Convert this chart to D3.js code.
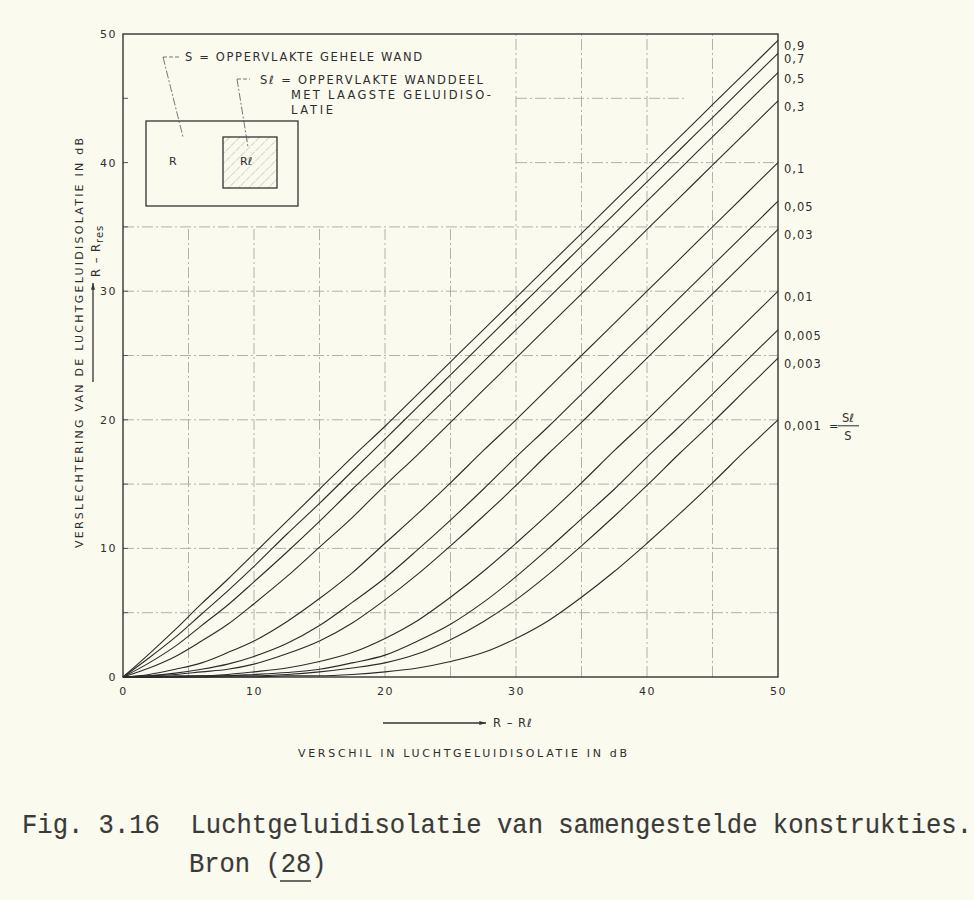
<!DOCTYPE html>
<html>
<head>
<meta charset="utf-8">
<script src="https://cdn.jsdelivr.net/npm/d3@7"></script>
<style>
  body { margin: 0; background: #fbfaee; }
  svg { display: block; }
  .lettering { font-family: 'DejaVu Sans', sans-serif; fill: #2e2e2e; }
  .caption { font-family: 'Liberation Mono', monospace; fill: #3a3a3a; stroke: #3a3a3a; stroke-width: 0.15; }
</style>
</head>
<body>
<svg id="chart"></svg>
<script>
const xValues = [0, 2, 4, 6, 8, 10, 12.5, 15, 17.5, 20, 22.5, 25, 27.5, 30, 32.5, 35, 37.5, 40, 42.5, 45, 47.5, 50];

// R - Rres (dB) per ratio Sl/S
const curve09 = [0, 1.8, 3.7, 5.7, 7.6, 9.6, 12.1, 14.6, 17.1, 19.5, 22.0, 24.5, 27.0, 29.5, 32.0, 34.5, 37.0, 39.5, 42.0, 44.5, 47.0, 49.5];
const curve07 = [0, 1.5, 3.1, 4.9, 6.7, 8.6, 11.1, 13.5, 16.0, 18.5, 21.0, 23.5, 26.0, 28.5, 31.0, 33.5, 36.0, 38.5, 41.0, 43.5, 46.0, 48.5];
const curve05 = [0, 1.1, 2.4, 4.0, 5.6, 7.4, 9.7, 12.1, 14.6, 17.0, 19.5, 22.0, 24.5, 27.0, 29.5, 32.0, 34.5, 37.0, 39.5, 42.0, 44.5, 47.0];
const curve03 = [0, 0.7, 1.6, 2.8, 4.1, 5.7, 7.8, 10.1, 12.4, 14.9, 17.3, 19.8, 22.3, 24.8, 27.3, 29.8, 32.3, 34.8, 37.3, 39.8, 42.3, 44.8];
const curve01 = [0, 0.2, 0.6, 1.1, 1.9, 2.8, 4.3, 6.1, 8.1, 10.4, 12.7, 15.1, 17.6, 20.0, 22.5, 25.0, 27.5, 30.0, 32.5, 35.0, 37.5, 40.0];
const curve005 = [0, 0.1, 0.3, 0.6, 1.0, 1.6, 2.6, 4.0, 5.8, 7.7, 9.9, 12.2, 14.6, 17.1, 19.5, 22.0, 24.5, 27.0, 29.5, 32.0, 34.5, 37.0];
const curve003 = [0, 0.1, 0.2, 0.4, 0.6, 1.0, 1.8, 2.8, 4.2, 6.0, 8.0, 10.2, 12.5, 14.9, 17.4, 19.8, 22.3, 24.8, 27.3, 29.8, 32.3, 34.8];
const curve001 = [0, 0.0, 0.1, 0.1, 0.2, 0.4, 0.7, 1.2, 1.9, 3.0, 4.4, 6.2, 8.2, 10.4, 12.7, 15.1, 17.6, 20.0, 22.5, 25.0, 27.5, 30.0];
const curve0005 = [0, 0.0, 0.0, 0.1, 0.1, 0.2, 0.35, 0.6, 1.1, 1.7, 2.8, 4.1, 5.8, 7.8, 10.0, 12.3, 14.6, 17.1, 19.5, 22.0, 24.5, 27.0];
const curve0003 = [0, 0.0, 0.0, 0.0, 0.1, 0.1, 0.2, 0.4, 0.7, 1.1, 1.8, 2.9, 4.3, 6.0, 8.0, 10.2, 12.5, 14.9, 17.4, 19.8, 22.3, 24.8];
const curve0001 = [0, 0.0, 0.0, 0.0, 0.0, 0.0, 0.1, 0.1, 0.2, 0.4, 0.7, 1.2, 1.9, 3.0, 4.4, 6.2, 8.2, 10.4, 12.7, 15.1, 17.6, 20.0];

const ratioLabels = ['0,9', '0,7', '0,5', '0,3', '0,1', '0,05', '0,03', '0,01', '0,005', '0,003', '0,001'];
const curves = [curve09, curve07, curve05, curve03, curve01, curve005, curve003, curve001, curve0005, curve0003, curve0001];

const xTicks = [0, 10, 20, 30, 40, 50];
const yTicks = [0, 10, 20, 30, 40, 50];
const gridSteps = [5, 10, 15, 20, 25, 30, 35, 40, 45];

const config = {
  width: 974,
  height: 900,
  margin: {top: 34, left: 123},
  innerWidth: 655,
  innerHeight: 643
};

const svg = d3.select('#chart')
    .attr('width', config.width)
    .attr('height', config.height);

svg.append('rect')
    .attr('width', config.width)
    .attr('height', config.height)
    .attr('fill', '#fbfaee');

const chart = svg.append('g')
    .attr('transform', `translate(${config.margin.left},${config.margin.top})`);

const xScale = d3.scaleLinear().domain([0, 50]).range([0, config.innerWidth]);
const yScale = d3.scaleLinear().domain([0, 50]).range([config.innerHeight, 0]);

// dash-dot grid; upper-left part is kept free for the sketch
const grid = chart.append('g')
    .attr('stroke', '#a9a9a2')
    .attr('stroke-width', 0.9)
    .attr('stroke-dasharray', '11,3,2,3')
    .attr('fill', 'none');

grid.selectAll('.vgrid')
    .data(gridSteps)
    .join('line')
    .attr('class', 'vgrid')
    .attr('x1', d => xScale(d))
    .attr('x2', d => xScale(d))
    .attr('y1', yScale(0))
    .attr('y2', d => d >= 30 ? yScale(50) : yScale(35));

grid.selectAll('.hgrid')
    .data(gridSteps)
    .join('line')
    .attr('class', 'hgrid')
    .attr('y1', d => yScale(d))
    .attr('y2', d => yScale(d))
    .attr('x1', d => d >= 40 ? xScale(30) : xScale(0))
    .attr('x2', d => d === 45 ? xScale(43) : xScale(50));

// axes
const xAxis = d3.axisBottom(xScale).tickValues(xTicks).tickSize(0).tickPadding(10);
const yAxis = d3.axisLeft(yScale).tickValues(yTicks).tickSize(0).tickPadding(6);

const xAxisG = chart.append('g')
    .attr('transform', `translate(0,${config.innerHeight})`)
    .call(xAxis);
const yAxisG = chart.append('g').call(yAxis);

[xAxisG, yAxisG].forEach(g => {
  g.select('.domain').remove();
  g.selectAll('text')
      .attr('font-family', 'DejaVu Sans, sans-serif')
      .attr('font-size', 11)
      .attr('letter-spacing', 1.5)
      .attr('fill', '#2e2e2e');
});

// small inward ticks
chart.selectAll('.ytick-in')
    .data(gridSteps)
    .join('line')
    .attr('x1', 0).attr('x2', 5)
    .attr('y1', d => yScale(d)).attr('y2', d => yScale(d))
    .attr('stroke', '#555').attr('stroke-width', 1);

// frame
chart.append('rect')
    .attr('width', config.innerWidth)
    .attr('height', config.innerHeight)
    .attr('fill', 'none')
    .attr('stroke', '#333')
    .attr('stroke-width', 1.4);

// curves
const line = d3.line()
    .x((d, i) => xScale(xValues[i]))
    .y(d => yScale(d))
    .curve(d3.curveMonotoneX);

chart.selectAll('.curve')
    .data(curves)
    .join('path')
    .attr('class', 'curve')
    .attr('d', d => line(d))
    .attr('fill', 'none')
    .attr('stroke', '#2b2b2b')
    .attr('stroke-width', 1.1);

// curve labels at the right end
chart.selectAll('.ratio-label')
    .data(curves)
    .join('text')
    .attr('class', 'ratio-label lettering')
    .attr('x', xScale(50) + 6)
    .attr('y', d => yScale(d[d.length - 1]) + 6)
    .attr('dy', '0.35em')
    .attr('font-size', 11.5)
    .attr('letter-spacing', 1)
    .text((d, i) => ratioLabels[i]);

const lastY = yScale(curve0001[curve0001.length - 1]) + 6;
const fracX = xScale(50) + 70;
chart.append('text').attr('class', 'lettering')
    .attr('x', xScale(50) + 51).attr('y', lastY).attr('dy', '0.35em')
    .attr('font-size', 11.5).text('=');
chart.append('text').attr('class', 'lettering')
    .attr('x', fracX).attr('y', lastY - 4)
    .attr('font-size', 11.5).attr('text-anchor', 'middle').text('Sℓ');
chart.append('line')
    .attr('x1', fracX - 10).attr('x2', fracX + 11)
    .attr('y1', lastY).attr('y2', lastY)
    .attr('stroke', '#2e2e2e').attr('stroke-width', 1);
chart.append('text').attr('class', 'lettering')
    .attr('x', fracX).attr('y', lastY + 14)
    .attr('font-size', 11.5).attr('text-anchor', 'middle').text('S');

// sketch of the wall in the upper-left corner
const sketch = svg.append('g');
const hatch = svg.append('defs').append('pattern')
    .attr('id', 'hatch')
    .attr('patternUnits', 'userSpaceOnUse')
    .attr('width', 7).attr('height', 7)
    .attr('patternTransform', 'rotate(45)');
hatch.append('line')
    .attr('x1', 0).attr('y1', 0).attr('x2', 0).attr('y2', 7)
    .attr('stroke', '#9a9a90').attr('stroke-width', 0.8)
    .attr('stroke-dasharray', '3,1');

sketch.append('rect')
    .attr('x', 146).attr('y', 121).attr('width', 152).attr('height', 85)
    .attr('fill', 'none').attr('stroke', '#333').attr('stroke-width', 1.3);
sketch.append('rect')
    .attr('x', 223).attr('y', 137).attr('width', 54).attr('height', 51)
    .attr('fill', 'url(#hatch)').attr('stroke', '#333').attr('stroke-width', 1.3);
sketch.append('text').attr('class', 'lettering')
    .attr('x', 169).attr('y', 165).attr('font-size', 11).text('R');
sketch.append('text').attr('class', 'lettering')
    .attr('x', 240).attr('y', 165).attr('font-size', 11).text('Rℓ');

// leaders
const leaders = sketch.append('g')
    .attr('stroke', '#555').attr('stroke-width', 0.8).attr('fill', 'none');
leaders.append('path').attr('d', 'M163,57 L179,57').attr('stroke-dasharray', '4,2');
leaders.append('path').attr('d', 'M163,57 L183,137').attr('stroke-dasharray', '8,2,2,2');
leaders.append('path').attr('d', 'M237,79 L250,79').attr('stroke-dasharray', '4,2');
leaders.append('path').attr('d', 'M237,79 L248,147').attr('stroke-dasharray', '8,2,2,2');

const sketchText = [
  {x: 185, y: 61, t: 'S = OPPERVLAKTE GEHELE WAND', w: 237},
  {x: 260, y: 84, t: 'Sℓ = OPPERVLAKTE WANDDEEL', w: 223},
  {x: 291, y: 99, t: 'MET LAAGSTE GELUIDISO-', w: 200},
  {x: 291, y: 114, t: 'LATIE', w: 42}
];
sketch.selectAll('.sk')
    .data(sketchText)
    .join('text')
    .attr('class', 'lettering')
    .attr('x', d => d.x).attr('y', d => d.y)
    .attr('font-size', 11.5)
    .attr('textLength', d => d.w)
    .attr('lengthAdjust', 'spacing')
    .text(d => d.t);

// axis titles
const arrowHead = svg.append('defs').append('marker')
    .attr('id', 'arrow')
    .attr('viewBox', '0 0 10 6')
    .attr('refX', 10).attr('refY', 3)
    .attr('markerWidth', 10).attr('markerHeight', 4)
    .attr('markerUnits', 'userSpaceOnUse')
    .attr('orient', 'auto');
arrowHead.append('path').attr('d', 'M0,0 L10,3 L0,6 Z').attr('fill', '#333');

svg.append('line')
    .attr('x1', 93).attr('y1', 382).attr('x2', 93).attr('y2', 283)
    .attr('stroke', '#333').attr('stroke-width', 1.3)
    .attr('marker-end', 'url(#arrow)');
svg.append('text').attr('class', 'lettering')
    .attr('transform', 'translate(100,277) rotate(-90)')
    .attr('font-size', 11.5).attr('letter-spacing', 1)
    .html('R &#8211; R<tspan dy="3" font-size="10">res</tspan>');
svg.append('text').attr('class', 'lettering')
    .attr('transform', 'translate(83,548) rotate(-90)')
    .attr('font-size', 11)
    .attr('textLength', 410).attr('lengthAdjust', 'spacing')
    .text('VERSLECHTERING VAN DE LUCHTGELUIDISOLATIE IN dB');

svg.append('line')
    .attr('x1', 383).attr('y1', 723).attr('x2', 486).attr('y2', 723)
    .attr('stroke', '#333').attr('stroke-width', 1.3)
    .attr('marker-end', 'url(#arrow)');
svg.append('text').attr('class', 'lettering')
    .attr('x', 493).attr('y', 727)
    .attr('font-size', 11.5).attr('letter-spacing', 1)
    .text('R – Rℓ');
svg.append('text').attr('class', 'lettering')
    .attr('x', 298).attr('y', 757)
    .attr('font-size', 11)
    .attr('textLength', 329).attr('lengthAdjust', 'spacing')
    .text('VERSCHIL IN LUCHTGELUIDISOLATIE IN dB');

// caption
svg.append('text').attr('class', 'caption')
    .attr('transform', 'translate(22,833) scale(1,1.08)')
    .attr('font-size', 25.5)
    .attr('textLength', 950).attr('lengthAdjust', 'spacingAndGlyphs')
    .attr('xml:space', 'preserve')
    .text('Fig. 3.16  Luchtgeluidisolatie van samengestelde konstrukties.');
svg.append('text').attr('class', 'caption')
    .attr('transform', 'translate(189,872) scale(1,1.08)')
    .attr('font-size', 25.5)
    .text('Bron (28)');
svg.append('line')
    .attr('x1', 280).attr('x2', 311).attr('y1', 881).attr('y2', 881)
    .attr('stroke', '#3a3a3a').attr('stroke-width', 1.5);
</script>
</body>
</html>
